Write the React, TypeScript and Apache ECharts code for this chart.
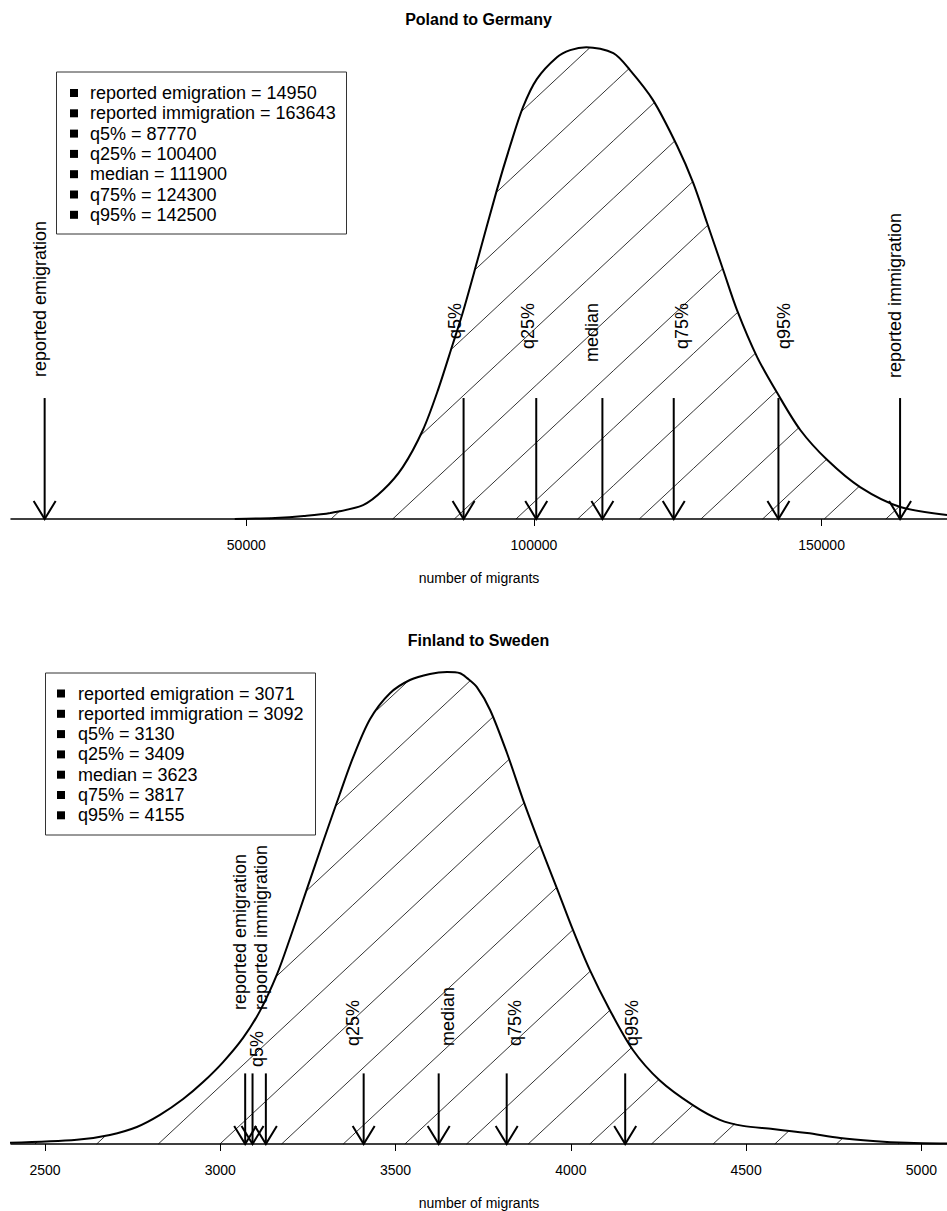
import React, { useEffect, useRef } from "react";
import * as echarts from "echarts";

// ---------- data ----------
const markerNames = ["reported emigration", "reported immigration", "q5%", "q25%", "median", "q75%", "q95%"];

// Poland to Germany: density curve (x = number of migrants, y = density x1e-6)
const pgX = [48000, 55000, 60000, 64600, 70300, 73800, 77200, 80700, 83200, 85900, 87700, 90100, 93600, 95900, 98100, 100500, 104000, 106300, 109100, 113800, 116700, 120700, 124900, 127700, 130100, 132900, 135300, 138800, 142300, 146300, 151000, 156700, 163700, 171800];
const pgY = [0, 0.05, 0.14, 0.28, 0.65, 1.35, 2.42, 4.15, 5.92, 8.16, 9.69, 11.98, 15.38, 17.43, 19.2, 20.51, 21.53, 21.86, 22.0, 21.72, 20.93, 19.53, 17.39, 15.66, 13.8, 11.61, 9.74, 7.55, 5.87, 4.15, 2.75, 1.49, 0.56, 0.19];
const pgMarkers = [14950, 163643, 87770, 100400, 111900, 124300, 142500];
const pgArrowTop = 5.64;
const pgTicks = [50000, 100000, 150000];

// Finland to Sweden: density curve (y = density x1e-4)
const fsX = [2400, 2591, 2685, 2762, 2828, 2894, 2951, 3008, 3065, 3113, 3162, 3199, 3247, 3293, 3341, 3378, 3427, 3484, 3541, 3598, 3647, 3684, 3704, 3732, 3770, 3818, 3864, 3912, 3960, 4006, 4054, 4111, 4177, 4253, 4348, 4425, 4491, 4576, 4674, 4768, 4862, 4959, 5073];
const fsY = [0.03, 0.11, 0.24, 0.45, 0.77, 1.19, 1.64, 2.17, 2.81, 3.52, 4.5, 5.45, 6.75, 8.0, 9.27, 10.22, 11.25, 11.94, 12.29, 12.45, 12.5, 12.47, 12.34, 12.1, 11.49, 10.35, 9.11, 7.92, 6.78, 5.67, 4.61, 3.55, 2.49, 1.69, 1.03, 0.64, 0.48, 0.4, 0.29, 0.16, 0.08, 0.03, 0.01];
const fsMarkers = [3071, 3092, 3130, 3409, 3623, 3817, 4155];
const fsArrowTop = 1.87;
const fsTicks = [2500, 3000, 3500, 4000, 4500, 5000];

// ---------- styling ----------
const FONT = "'Liberation Sans', Arial, Helvetica, sans-serif";
const SPACING = 61.65;
const SLOPE = Math.tan((43 * Math.PI) / 180);

type LabelStyle = { dx: number; dy: number; anchor: "start" | "end" };
const pgLabelStyle: LabelStyle[] = [
  { dx: -5, dy: 21, anchor: "start" },
  { dx: -5, dy: 20, anchor: "start" },
  { dx: -8.5, dy: 95, anchor: "end" },
  { dx: -8.6, dy: 95, anchor: "end" },
  { dx: -10, dy: 95, anchor: "end" },
  { dx: 8.4, dy: 95, anchor: "end" },
  { dx: 6, dy: 95, anchor: "end" },
];
const fsLabelStyle: LabelStyle[] = [
  { dx: -5, dy: 63.4, anchor: "start" },
  { dx: 8, dy: 63.4, anchor: "start" },
  { dx: -9, dy: 6.4, anchor: "start" },
  { dx: -10.4, dy: 27.4, anchor: "start" },
  { dx: 9, dy: 27.4, anchor: "start" },
  { dx: 8.3, dy: 27.4, anchor: "start" },
  { dx: 6.4, dy: 27.4, anchor: "start" },
];

function hatchRenderer(xs: number[], ys: number[], phase: number) {
  return (params: any, api: any) => {
    const i = params.dataIndex;
    if (i >= xs.length - 1) return null;
    const p0 = api.coord([xs[i], ys[i]]);
    const p1 = api.coord([xs[i + 1], ys[i + 1]]);
    const base = api.coord([xs[i], 0])[1];
    const xa = p0[0];
    const xb = p1[0];
    const ha = base - p0[1];
    const hb = base - p1[1];
    const hmax = Math.max(ha, hb);
    const children: any[] = [];
    const kMin = Math.floor((xa - hmax / SLOPE - phase) / SPACING) - 1;
    const kMax = Math.ceil((xb - phase) / SPACING) + 1;
    const hc = (x: number) => ha + ((hb - ha) * (x - xa)) / (xb - xa);
    for (let k = kMin; k <= kMax; k++) {
      const x0 = phase + k * SPACING;
      const xL = Math.max(xa, x0);
      if (xL >= xb) continue;
      const d = (x: number) => hc(x) - SLOPE * (x - x0);
      const dL = d(xL);
      const dR = d(xb);
      let s0: number, s1: number;
      if (dL >= 0 && dR >= 0) {
        s0 = xL;
        s1 = xb;
      } else if (dL < 0 && dR < 0) {
        continue;
      } else {
        const xr = xL + ((xb - xL) * dL) / (dL - dR);
        if (dL >= 0) {
          s0 = xL;
          s1 = xr;
        } else {
          s0 = xr;
          s1 = xb;
        }
      }
      if (s1 - s0 < 0.05) continue;
      children.push({
        type: "line",
        shape: { x1: s0, y1: base - SLOPE * (s0 - x0), x2: s1, y2: base - SLOPE * (s1 - x0) },
        style: { stroke: "#000", lineWidth: 0.8 },
      });
    }
    return { type: "group", children };
  };
}

function arrowRenderer(styles: LabelStyle[]) {
  return (params: any, api: any) => {
    const i = params.dataIndex;
    const xv = api.value(0);
    const top = api.value(1);
    const pTop = api.coord([xv, top]);
    const pBase = api.coord([xv, 0]);
    const x = pTop[0];
    const st = styles[i];
    return {
      type: "group",
      children: [
        { type: "line", shape: { x1: x, y1: pTop[1], x2: x, y2: pBase[1] }, style: { stroke: "#000", lineWidth: 2 } },
        {
          type: "polyline",
          shape: { points: [[x - 11, pBase[1] - 18], [x, pBase[1]], [x + 11, pBase[1] - 18]] },
          style: { stroke: "#000", fill: null, lineWidth: 2 },
        },
        {
          type: "text",
          x: x + st.dx,
          y: pTop[1] - st.dy,
          rotation: Math.PI / 2,
          style: {
            text: markerNames[i],
            fontSize: 18,
            fontFamily: FONT,
            fill: "#000",
            align: st.anchor === "start" ? "left" : "right",
            verticalAlign: "middle",
          },
        },
      ],
    };
  };
}

function legendGroup(values: number[], left: number, top: number, width: number, height: number, bulletX: number, textX: number, firstRow: number) {
  const children: any[] = [
    { type: "rect", shape: { x: left, y: top, width, height }, style: { stroke: "#333", lineWidth: 1, fill: "#fff" } },
  ];
  values.forEach((v, i) => {
    const cy = firstRow + i * 20.3;
    children.push({ type: "rect", shape: { x: bulletX, y: cy - 4, width: 8, height: 8 }, style: { fill: "#000" } });
    children.push({
      type: "text",
      x: textX,
      y: cy,
      style: { text: `${markerNames[i]} = ${v}`, fontSize: 18, fontFamily: FONT, fill: "#000", verticalAlign: "middle" },
    });
  });
  return { type: "group", children };
}

function xAxisCfg(gridIndex: number, min: number, max: number, ticks: number[]) {
  return {
    gridIndex,
    type: "value",
    min,
    max,
    axisLine: { show: true, onZero: false, lineStyle: { color: "#000", width: 1.5 } },
    axisTick: { show: true, customValues: ticks, length: 7, lineStyle: { color: "#000", width: 1 } },
    axisLabel: { customValues: ticks, fontSize: 14, color: "#000", margin: 19, fontFamily: FONT, formatter: (v: number) => String(v) },
    splitLine: { show: false },
    name: "number of migrants",
    nameLocation: "middle",
    nameGap: 52,
    nameTextStyle: { fontSize: 14, color: "#000", fontFamily: FONT },
  };
}

export default function App() {
  const ref = useRef<HTMLDivElement>(null);
  useEffect(() => {
    if (!ref.current) return;
    const chart = echarts.init(ref.current, null, { renderer: "svg" });
    const option: any = {
      animation: false,
      backgroundColor: "#fff",
      textStyle: { fontFamily: FONT },
      title: [
        { text: "Poland to Germany", left: 473.5, textAlign: "center", top: 6, textStyle: { fontSize: 16, fontWeight: "bold", color: "#000", fontFamily: FONT } },
        { text: "Finland to Sweden", left: 473.5, textAlign: "center", top: 627, textStyle: { fontSize: 16, fontWeight: "bold", color: "#000", fontFamily: FONT } },
      ],
      grid: [
        { left: 11, width: 936, top: 30, height: 489 },
        { left: 11, width: 936, top: 660, height: 484 },
      ],
      xAxis: [xAxisCfg(0, 9100, 171800, pgTicks), xAxisCfg(1, 2403, 5073, fsTicks)],
      yAxis: [
        { gridIndex: 0, type: "value", min: 0, max: 22.8, show: false, splitLine: { show: false } },
        { gridIndex: 1, type: "value", min: 0, max: 12.82, show: false, splitLine: { show: false } },
      ],
      series: [
        {
          type: "custom",
          xAxisIndex: 0,
          yAxisIndex: 0,
          silent: true,
          z: 1,
          data: pgX.map((x, i) => [x, pgY[i]]),
          encode: { x: 0, y: 1 },
          renderItem: hatchRenderer(pgX, pgY, 22.8),
        },
        {
          type: "line",
          xAxisIndex: 0,
          yAxisIndex: 0,
          silent: true,
          z: 2,
          data: pgX.map((x, i) => [x, pgY[i]]),
          showSymbol: false,
          symbol: "none",
          smooth: 0.3,
          lineStyle: { color: "#000", width: 2 },
        },
        {
          type: "custom",
          xAxisIndex: 0,
          yAxisIndex: 0,
          silent: true,
          z: 3,
          data: pgMarkers.map((v) => [v, pgArrowTop]),
          encode: { x: 0, y: 1 },
          renderItem: arrowRenderer(pgLabelStyle),
        },
        {
          type: "custom",
          xAxisIndex: 1,
          yAxisIndex: 1,
          silent: true,
          z: 1,
          data: fsX.map((x, i) => [x, fsY[i]]),
          encode: { x: 0, y: 1 },
          renderItem: hatchRenderer(fsX, fsY, 35.0),
        },
        {
          type: "line",
          xAxisIndex: 1,
          yAxisIndex: 1,
          silent: true,
          z: 2,
          data: fsX.map((x, i) => [x, fsY[i]]),
          showSymbol: false,
          symbol: "none",
          smooth: 0.3,
          lineStyle: { color: "#000", width: 2 },
        },
        {
          type: "custom",
          xAxisIndex: 1,
          yAxisIndex: 1,
          silent: true,
          z: 3,
          data: fsMarkers.map((v) => [v, fsArrowTop]),
          encode: { x: 0, y: 1 },
          renderItem: arrowRenderer(fsLabelStyle),
        },
      ],
      graphic: [
        legendGroup(pgMarkers, 56.5, 72, 290, 162, 70, 90, 93),
        legendGroup(fsMarkers, 45.5, 673, 270, 162, 57, 78, 693.5),
      ],
    };
    chart.setOption(option);
    return () => chart.dispose();
  }, []);
  return <div ref={ref} style={{ position: "absolute", left: 0, top: 0, width: 947, height: 1211, background: "#fff" }} />;
}
